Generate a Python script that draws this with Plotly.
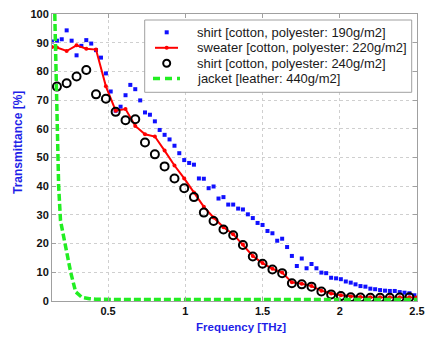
import plotly.graph_objects as go

# ---- data ----
freq_190 = [0.137, 0.169, 0.200, 0.232, 0.264, 0.296, 0.327, 0.359, 0.391, 0.422,
            0.454, 0.486, 0.517, 0.549, 0.581, 0.613, 0.644, 0.676, 0.708, 0.739,
            0.771, 0.803, 0.834, 0.866, 0.898, 0.930, 0.961, 0.993, 1.025, 1.056,
            1.088, 1.120, 1.151, 1.183, 1.215, 1.247, 1.278, 1.310, 1.342, 1.373,
            1.405, 1.437, 1.468, 1.500, 1.532, 1.564, 1.595, 1.627, 1.659, 1.690,
            1.722, 1.754, 1.785, 1.817, 1.849, 1.881, 1.912, 1.944, 1.976, 2.007,
            2.039, 2.071, 2.102, 2.134, 2.166, 2.198, 2.229, 2.261, 2.293, 2.324,
            2.356, 2.388, 2.419, 2.451, 2.483]
shirt_190 = [90.4, 90.7, 91.2, 94.3, 90.7, 85.6, 88.9, 90.9, 89.7, 87.4,
             84.8, 79.3, 73.0, 66.3, 67.7, 71.7, 75.3, 73.8, 69.9, 65.7,
             64.9, 62.6, 59.6, 57.9, 56.3, 54.1, 51.5, 49.1, 48.1, 47.5,
             42.7, 42.6, 39.3, 39.9, 35.7, 36.2, 33.6, 33.6, 32.2, 31.9,
             30.2, 28.9, 27.2, 26.5, 24.4, 23.6, 21.0, 21.7, 18.8, 15.7,
             12.2, 14.8, 11.4, 12.9, 11.4, 9.9, 9.7, 8.1, 7.9, 7.6,
             6.8, 6.4, 5.8, 5.2, 5.0, 4.3, 4.1, 3.8, 3.6, 3.5,
             3.5, 3.1, 2.9, 2.7, 2.0]

freq_240 = [0.169, 0.232, 0.296, 0.359, 0.422, 0.486, 0.549, 0.613, 0.676, 0.739,
            0.803, 0.866, 0.930, 0.993, 1.056, 1.120, 1.183, 1.247, 1.310, 1.373,
            1.437, 1.500, 1.564, 1.627, 1.690, 1.754, 1.817, 1.881, 1.944, 2.007,
            2.071, 2.134, 2.198, 2.261, 2.324, 2.388, 2.451]
shirt_240 = [74.7, 75.9, 78.2, 80.5, 72.0, 70.5, 65.9, 63.0, 63.3, 55.2,
             51.1, 46.9, 42.7, 39.3, 36.2, 30.8, 27.9, 24.9, 22.9, 19.5,
             15.5, 13.0, 11.0, 9.7, 6.2, 5.8, 5.0, 3.3, 2.3, 1.7,
             1.3, 1.2, 1.1, 1.1, 1.1, 1.2, 1.3]

freq_220 = [0.137, 0.169, 0.232, 0.296, 0.359, 0.422, 0.486, 0.549, 0.613, 0.676,
            0.739, 0.803, 0.866, 0.930, 0.993, 1.056, 1.120, 1.183, 1.247, 1.310,
            1.373, 1.437, 1.500, 1.564, 1.627, 1.690, 1.754, 1.817, 1.881, 1.944,
            2.007, 2.071, 2.134, 2.198, 2.261, 2.324, 2.388, 2.451, 2.497]
sweater_220 = [88.5, 88.3, 87.1, 89.1, 87.9, 87.6, 74.8, 66.3, 66.9, 61.0,
               58.1, 57.3, 52.4, 47.2, 42.7, 37.8, 32.8, 29.1, 25.7, 23.3,
               19.7, 15.7, 13.2, 11.2, 9.9, 6.5, 6.0, 5.2, 3.6, 2.6,
               2.0, 1.6, 1.4, 1.3, 1.3, 1.3, 1.3, 1.3, 1.2]

freq_440 = [0.155, 0.168, 0.180, 0.192, 0.225, 0.258, 0.290, 0.330, 0.380, 0.420,
            0.600, 1.000, 1.500, 2.000, 2.500]
jacket_440 = [100.0, 62.0, 40.0, 28.0, 19.0, 10.0, 3.2, 1.3, 0.8, 0.6,
              0.5, 0.5, 0.5, 0.5, 0.5]

names = ["shirt [cotton, polyester: 190g/m2]",
         "sweater [cotton, polyester: 220g/m2]",
         "shirt [cotton, polyester: 240g/m2]",
         "jacket [leather: 440g/m2]"]

x_ticks = [0.5, 1, 1.5, 2, 2.5]
x_ticktext = ["0.5", "1", "1.5", "2", "2.5"]
y_ticks = [0, 10, 20, 30, 40, 50, 60, 70, 80, 90, 100]

FONT = "Liberation Sans, Arial, sans-serif"
BLUE_T = "#1f1fe8"
C_BLUE, C_RED, C_BLACK, C_GREEN = "#1010ff", "#ff0000", "#000000", "#22ee22"

W, H = 425, 337
ML, MR, MT, MB = 52, 8, 14, 36
PW, PH = W - ML - MR, H - MT - MB


def px(x):  # pixel x -> paper x
    return (x - ML) / PW


def py(y):  # pixel y -> paper y
    return (H - MB - y) / PH


fig = go.Figure()
fig.add_trace(go.Scatter(x=freq_190, y=shirt_190, mode="markers", name=names[0],
                         marker=dict(symbol="square", size=4, color=C_BLUE,
                                     line=dict(width=0))))
fig.add_trace(go.Scatter(x=freq_220, y=sweater_220, mode="lines+markers", name=names[1],
                         line=dict(color=C_RED, width=2),
                         marker=dict(symbol="circle", size=4, color=C_RED)))
fig.add_trace(go.Scatter(x=freq_240, y=shirt_240, mode="markers", name=names[2],
                         marker=dict(symbol="circle-open", size=8, color=C_BLACK,
                                     line=dict(width=2, color=C_BLACK))))
fig.add_trace(go.Scatter(x=freq_440, y=jacket_440, mode="lines", name=names[3],
                         line=dict(color=C_GREEN, width=3.5, dash="7px,3px")))

axis_common = dict(
    showline=True, linecolor="#a0a0a0", linewidth=1, mirror="ticks",
    ticks="inside", ticklen=4, tickcolor="#a0a0a0",
    showgrid=True, gridcolor="#cfcfcf", griddash="dot", gridwidth=1,
    zeroline=False,
    tickfont=dict(family=FONT, size=11, color="#111111", weight="bold"),
)

fig.update_xaxes(range=[0.137, 2.5], tickvals=x_ticks, ticktext=x_ticktext, **axis_common)
fig.update_yaxes(range=[0, 100], tickvals=y_ticks, **axis_common)

# ---- hand-drawn legend box (paper coordinates) ----
leg_left, leg_top, leg_right, leg_bottom = 144.7, 20, 411.7, 92.3
row_y = [32.3, 47.8, 63.3, 78.5]
sym_x0, sym_xc, sym_x1 = 155, 166.7, 178
text_x = 194.5

shapes = [dict(type="rect", xref="paper", yref="paper", layer="above",
               x0=px(leg_left), x1=px(leg_right), y0=py(leg_bottom), y1=py(leg_top),
               fillcolor="white", line=dict(color="#a0a0a0", width=1))]
# blue square
shapes.append(dict(type="rect", xref="paper", yref="paper", layer="above",
                   x0=px(sym_xc - 2), x1=px(sym_xc + 2),
                   y0=py(row_y[0] + 2), y1=py(row_y[0] - 2),
                   fillcolor=C_BLUE, line=dict(width=0)))
# red line with dot
shapes.append(dict(type="line", xref="paper", yref="paper", layer="above",
                   x0=px(sym_x0), x1=px(sym_x1), y0=py(row_y[1]), y1=py(row_y[1]),
                   line=dict(color=C_RED, width=2)))
shapes.append(dict(type="circle", xref="paper", yref="paper", layer="above",
                   x0=px(sym_xc - 2), x1=px(sym_xc + 2),
                   y0=py(row_y[1] + 2), y1=py(row_y[1] - 2),
                   fillcolor=C_RED, line=dict(width=0)))
# black open circle
shapes.append(dict(type="circle", xref="paper", yref="paper", layer="above",
                   x0=px(sym_xc - 3.5), x1=px(sym_xc + 3.5),
                   y0=py(row_y[2] + 3.5), y1=py(row_y[2] - 3.5),
                   fillcolor="rgba(0,0,0,0)", line=dict(color=C_BLACK, width=2)))
# green dashed line
shapes.append(dict(type="line", xref="paper", yref="paper", layer="above",
                   x0=px(sym_x0 - 2), x1=px(sym_x1 + 2), y0=py(row_y[3]), y1=py(row_y[3]),
                   line=dict(color=C_GREEN, width=3.5, dash="7px,5px")))

annotations = [
    dict(text=n, xref="paper", yref="paper", x=px(text_x), y=py(yy),
         xanchor="left", yanchor="middle", showarrow=False,
         font=dict(family=FONT, size=13, color="#1a1a1a"))
    for n, yy in zip(names, row_y)
]
annotations += [
    dict(text="Frequency [THz]", xref="paper", yref="paper",
         x=px(241), y=py(327), xanchor="center", yanchor="middle",
         showarrow=False,
         font=dict(family=FONT, size=11.5, color=BLUE_T, weight="bold")),
    dict(text="Transmittance [%]", xref="paper", yref="paper",
         x=px(18), y=py(143), xanchor="center", yanchor="middle",
         textangle=-90, showarrow=False,
         font=dict(family=FONT, size=12, color=BLUE_T, weight="bold")),
]

fig.update_layout(
    width=W, height=H,
    margin=dict(l=ML, r=MR, t=MT, b=MB, autoexpand=False),
    paper_bgcolor="white", plot_bgcolor="white",
    showlegend=False,
    hovermode=False,
    shapes=shapes,
    annotations=annotations,
)

fig.write_html("out.html",
               config={"displayModeBar": False, "staticPlot": True},
               post_script="document.body.style.margin='0';document.body.style.overflow='hidden';")
